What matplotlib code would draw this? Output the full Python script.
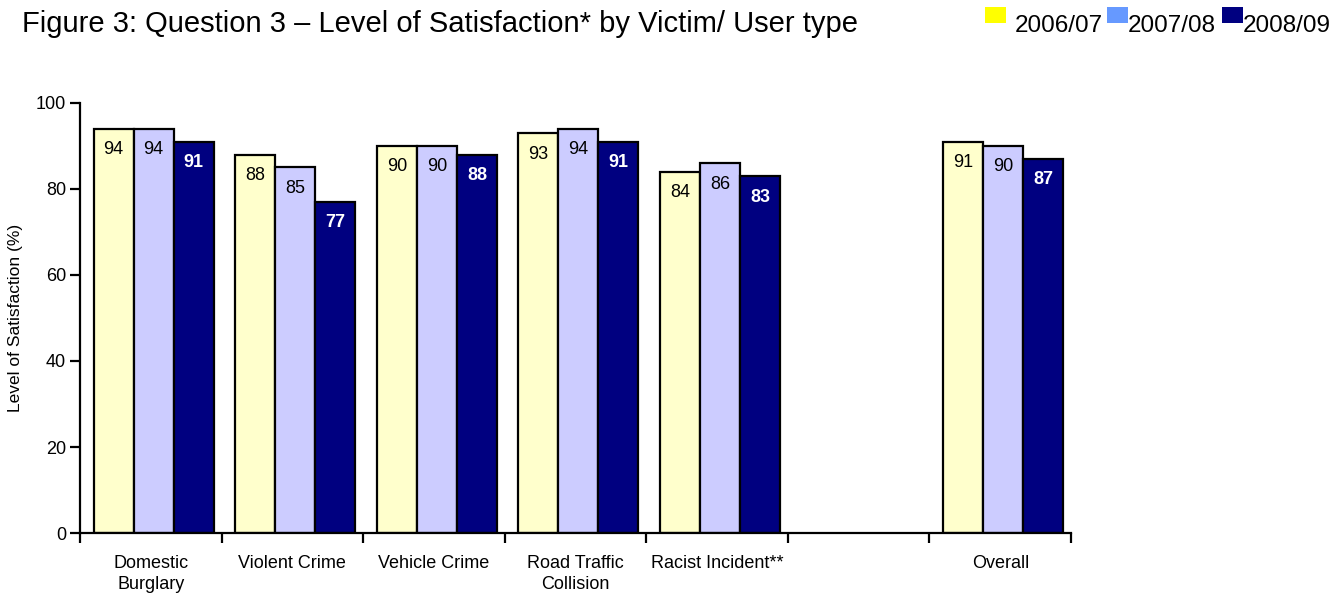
import numpy as np
import matplotlib.pyplot as plt
from matplotlib.patches import Rectangle

plt.rcParams['font.family'] = ['Liberation Sans', 'DejaVu Sans']

categories = ['Domestic\nBurglary', 'Violent Crime', 'Vehicle Crime',
              'Road Traffic\nCollision', 'Racist Incident**', '', 'Overall']
years = ['2006/07', '2007/08', '2008/09']
sat_0607 = [94, 88, 90, 93, 84, None, 91]
sat_0708 = [94, 85, 90, 94, 86, None, 90]
sat_0809 = [91, 77, 88, 91, 83, None, 87]

bar_colors = ['#FFFFCC', '#CCCCFF', '#000080']
legend_colors = ['#FFFF00', '#6699FF', '#000080']

fig = plt.figure(figsize=(13.41, 5.96), dpi=100)
ax = fig.add_axes([0.0597, 0.1057, 0.7390, 0.7215])

x = np.arange(len(categories))
width = 0.283
for i, (vals, col) in enumerate(zip([sat_0607, sat_0708, sat_0809], bar_colors)):
    for xi, v in zip(x, vals):
        if v is None:
            continue
        pos = xi + (i - 1) * width + 0.02
        ax.bar(pos, v, width, color=col, edgecolor='black', linewidth=1.6, zorder=2)
        last = i == 2
        ax.annotate(str(v), (pos, v), xytext=(0, -21), textcoords='offset pixels',
                    ha='center', va='center', fontsize=13,
                    color='white' if last else 'black',
                    fontweight='bold' if last else 'normal')

ax.set_xlim(-0.5, len(categories) - 0.5)
ax.set_ylim(0, 100)
ax.set_yticks(range(0, 101, 20))
ax.set_xticks(np.arange(len(categories) + 1) - 0.5)
ax.set_xticklabels([])
ax.set_xticks(x, minor=True)
ax.set_xticklabels(categories, minor=True, fontsize=13, linespacing=1.3)
ax.tick_params(axis='x', which='minor', length=0, pad=16)
ax.tick_params(axis='x', which='major', direction='out', length=7, width=1.6)
ax.tick_params(axis='y', direction='out', length=7, width=1.6, labelsize=13, pad=3)

for s in ['top', 'right']:
    ax.spines[s].set_visible(False)
for s in ['left', 'bottom']:
    ax.spines[s].set_linewidth(1.6)

ax.set_ylabel('Level of Satisfaction (%)', fontsize=12.5, labelpad=9)

fig.text(22 / 1341, 1 - 24 / 596, 'Figure 3: Question 3 \u2013 Level of Satisfaction* by Victim/ User type',
         fontsize=21, va='center', ha='left')

# legend boxes and year labels along the top right
patch_x = [985, 1107, 1222]
text_x = [1015, 1128, 1243]
for px, tx, yr, col in zip(patch_x, text_x, years, legend_colors):
    fig.patches.append(Rectangle((px / 1341, 1 - 23 / 596), 21 / 1341, 16 / 596,
                                 facecolor=col, edgecolor='none',
                                 transform=fig.transFigure, figure=fig))
    fig.text(tx / 1341, 1 - 26 / 596, yr, fontsize=17.5, va='center', ha='left')

fig.savefig('out.png', dpi=100)
